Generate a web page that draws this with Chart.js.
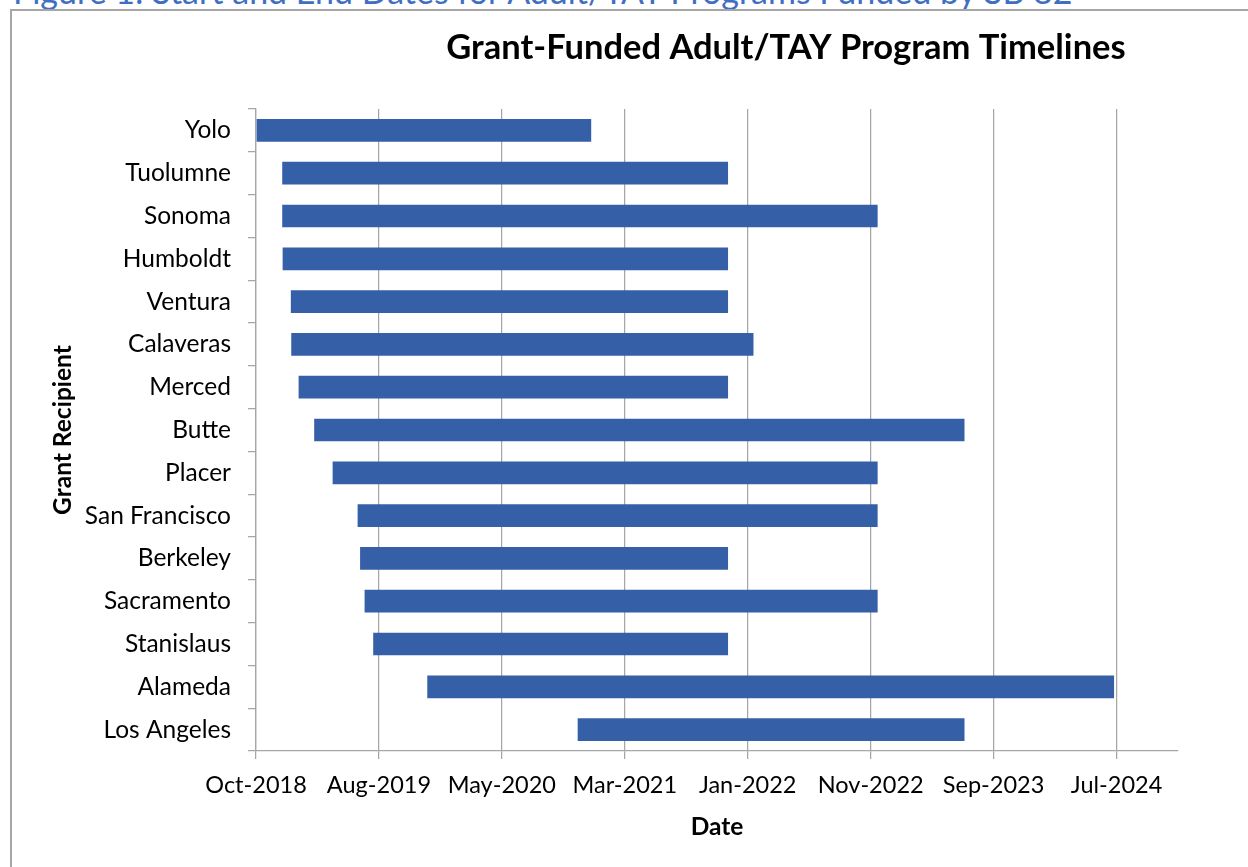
<!DOCTYPE html>
<html>
<head>
<meta charset="utf-8">
<title>Grant-Funded Adult/TAY Program Timelines</title>
<script src="https://cdn.jsdelivr.net/npm/chart.js@4.4.1/dist/chart.umd.min.js"></script>
<style>
  html, body { margin: 0; padding: 0; background: #fff; overflow: hidden; }
  body { width: 1248px; height: 867px; position: relative; font-family: Lato, sans-serif; }
  .caption {
    position: absolute; left: 13px; top: -26px;
    font-size: 34px; line-height: 34px; color: #3f6ec2; white-space: nowrap;
  }
  .frame {
    position: absolute; left: 10px; top: 9px; width: 1400px; height: 900px;
    border: 2px solid #a6a6a6;
  }
  .plot { position: absolute; left: 0; top: 0; width: 1236px; height: 856px; }
</style>
</head>
<body>
<div class="caption">Figure 1: Start and End Dates for Adult/TAY Programs Funded by SB 82</div>
<div class="frame">
  <div class="plot"><canvas id="timeline"></canvas></div>
</div>
<script>
// program names, top to bottom
const programs = [
  'Yolo', 'Tuolumne', 'Sonoma', 'Humboldt', 'Ventura', 'Calaveras', 'Merced',
  'Butte', 'Placer', 'San Francisco', 'Berkeley', 'Sacramento', 'Stanislaus',
  'Alameda', 'Los Angeles'
];

const startDates = [
  '2018-10-07', '2018-12-10', '2018-12-10', '2018-12-11', '2018-12-31', '2019-01-01', '2019-01-19',
  '2019-02-26', '2019-04-12', '2019-06-12', '2019-06-18', '2019-06-29', '2019-07-20',
  '2019-11-29', '2020-11-30'
];

const endDates = [
  '2021-01-02', '2021-12-02', '2022-12-02', '2021-12-02', '2021-12-02', '2022-02-02', '2021-12-02',
  '2023-07-02', '2022-12-02', '2022-12-02', '2021-12-02', '2022-12-02', '2021-12-02',
  '2024-07-01', '2023-07-02'
];

// date axis: starts Oct 7 2018, one tick every 300 days
const axisStart = '2018-10-07';
const axisDays = 2250;
const tickStepDays = 300;
const tickLabels = [
  'Oct-2018', 'Aug-2019', 'May-2020', 'Mar-2021', 'Jan-2022', 'Nov-2022', 'Sep-2023', 'Jul-2024'
];

const BAR_COLOR = '#355fa7';
const GRID_COLOR = '#a6a6a6';
const DAY_MS = 86400000;

const dayOf = (iso) => (Date.parse(iso) - Date.parse(axisStart)) / DAY_MS;

const categoryFont = { family: 'Lato', size: 24.5 };
const tickFont = { family: 'Lato', size: 23.5 };
const boldFont = { family: 'Lato', size: 24.5, weight: 'bold' };

// keeps the chart title where it sits over the plot, not centred on the canvas
const TITLE_CENTER_X = 774;
const titleOffset = {
  id: 'titleOffset',
  afterLayout(chart) {
    const tb = chart.titleBlock;
    if (!tb) return;
    const w = tb.right - tb.left;
    tb.left = TITLE_CENTER_X - w / 2;
    tb.right = tb.left + w;
  }
};

const ctx = document.getElementById('timeline').getContext('2d');
new Chart(ctx, {
  type: 'bar',
  data: {
    labels: programs,
    datasets: [{
      label: 'Program period',
      data: programs.map((p, i) => [dayOf(startDates[i]), dayOf(endDates[i])]),
      backgroundColor: BAR_COLOR,
      borderWidth: 0,
      barPercentage: 0.53,
      categoryPercentage: 1
    }]
  },
  options: {
    indexAxis: 'y',
    responsive: true,
    maintainAspectRatio: false,
    animation: false,
    layout: { padding: { left: 32, right: 70, top: 0, bottom: 0 } },
    plugins: {
      legend: { display: false },
      tooltip: { enabled: false },
      title: {
        display: true,
        text: 'Grant-Funded Adult/TAY Program Timelines',
        color: '#000',
        font: { family: 'Lato', size: 34.5, weight: 'bold' },
        padding: { top: 16, bottom: 40.6 }
      }
    },
    scales: {
      x: {
        type: 'linear',
        min: 0,
        max: axisDays,
        afterFit: (scale) => { scale.height = 116; },
        border: { color: GRID_COLOR, width: 1.25 },
        grid: { color: GRID_COLOR, lineWidth: 1.25, drawTicks: true, tickLength: 8 },
        ticks: {
          stepSize: tickStepDays,
          includeBounds: false,
          autoSkip: false,
          maxRotation: 0,
          padding: 12,
          color: '#000',
          font: tickFont,
          callback: (value, index) => tickLabels[index]
        },
        title: {
          display: true,
          text: 'Date',
          color: '#000',
          font: boldFont,
          padding: { top: 0, bottom: 25 }
        }
      },
      y: {
        afterFit: (scale) => { scale.width = 212; },
        border: { color: GRID_COLOR, width: 1.25 },
        grid: { color: GRID_COLOR, lineWidth: 1.25, drawOnChartArea: false, drawTicks: true, tickLength: 8 },
        ticks: { padding: 17, color: '#000', font: categoryFont },
        title: {
          display: true,
          text: 'Grant Recipient',
          color: '#000',
          font: boldFont,
          padding: { top: 4, bottom: 4 }
        }
      }
    }
  },
  plugins: [titleOffset]
});
</script>
</body>
</html>
